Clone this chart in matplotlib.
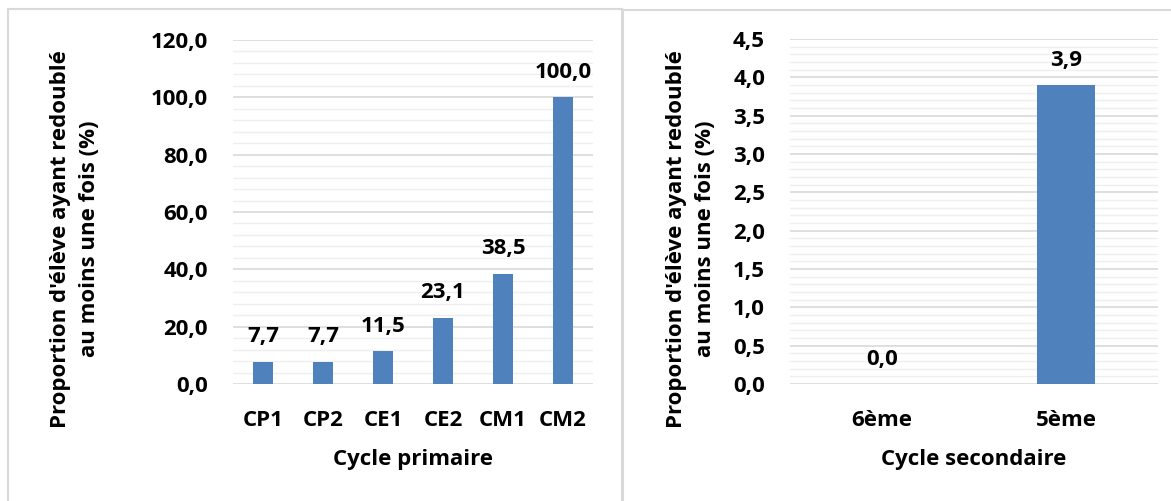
import matplotlib
matplotlib.use("Agg")
import matplotlib.pyplot as plt
from matplotlib.patches import Rectangle
from matplotlib.ticker import MultipleLocator, FuncFormatter

# Données : proportion d'élèves ayant redoublé au moins une fois
primaire_classes = ["CP1", "CP2", "CE1", "CE2", "CM1", "CM2"]
primaire_valeurs = [7.7, 7.7, 11.5, 23.1, 38.5, 100.0]

secondaire_classes = ["6ème", "5ème"]
secondaire_valeurs = [0.0, 3.9]

BLEU = "#4F81BD"
GRIS_MAJ = "#d9d9d9"
GRIS_MIN = "#efefef"
W, H = 1171, 501
TAILLE = 16

plt.rcParams["font.family"] = ["Open Sans", "DejaVu Sans"]
plt.rcParams["font.weight"] = "bold"


def virgule(v, _pos=None):
    return f"{v:.1f}".replace(".", ",")


def px(x0, y0, x1, y1):
    # rectangle en pixels (origine en haut à gauche) -> coordonnées figure
    return [x0 / W, 1 - y1 / H, (x1 - x0) / W, (y1 - y0) / H]


def tracer(ax, classes, valeurs, ymax, pas, pas_min, largeur):
    pos = range(len(classes))
    ax.bar(pos, valeurs, width=largeur, color=BLEU, zorder=3)
    ax.set_xlim(-0.5, len(classes) - 0.5)
    ax.set_ylim(0, ymax)
    ax.yaxis.set_major_locator(MultipleLocator(pas))
    ax.yaxis.set_minor_locator(MultipleLocator(pas_min))
    ax.yaxis.set_major_formatter(FuncFormatter(virgule))
    ax.grid(True, axis="y", which="major", color=GRIS_MAJ, lw=1.2, zorder=1)
    ax.grid(True, axis="y", which="minor", color=GRIS_MIN, lw=1.0, zorder=0)
    ax.set_xticks(list(pos))
    ax.set_xticklabels(classes)
    ax.tick_params(which="both", length=0)
    ax.tick_params(axis="y", pad=18, labelsize=TAILLE)
    ax.tick_params(axis="x", pad=19, labelsize=TAILLE)
    for s in ax.spines.values():
        s.set_visible(False)
    for x, v in zip(pos, valeurs):
        ax.annotate(virgule(v), (x, v), xytext=(0, 14), textcoords="offset points",
                    ha="center", va="baseline", fontsize=TAILLE, fontweight="bold")


fig = plt.figure(figsize=(W / 100, H / 100), dpi=100)
fig.patch.set_facecolor("white")

# cadres des deux graphiques
fig.patches.append(Rectangle((8 / W, -0.05), 614 / W, 1.05 - 9 / H,
                             transform=fig.transFigure, fill=False,
                             ec=GRIS_MAJ, lw=1.5))
fig.patches.append(Rectangle((623 / W, -0.05), 0.6, 1.05 - 10 / H,
                             transform=fig.transFigure, fill=False,
                             ec=GRIS_MAJ, lw=1.5))

ax1 = fig.add_axes(px(233, 40, 593, 384))
tracer(ax1, primaire_classes, primaire_valeurs, 120, 20, 4, 0.32)

ax2 = fig.add_axes(px(790, 39, 1158, 384))
tracer(ax2, secondaire_classes, secondaire_valeurs, 4.5, 0.5, 0.1, 0.315)

titre_y = "Proportion d'élève ayant redoublé\nau moins une fois (%)"
fig.text(75 / W, 1 - 239 / H, titre_y, rotation=90, ha="center", va="center",
         multialignment="center", fontsize=TAILLE, fontweight="bold", linespacing=1.45)
fig.text(691 / W, 1 - 239 / H, titre_y, rotation=90, ha="center", va="center",
         multialignment="center", fontsize=TAILLE, fontweight="bold", linespacing=1.45)

fig.text(413 / W, 1 - 460 / H, "Cycle primaire", ha="center", va="center",
         fontsize=TAILLE, fontweight="bold")
fig.text(974 / W, 1 - 460 / H, "Cycle secondaire", ha="center", va="center",
         fontsize=TAILLE, fontweight="bold")

fig.savefig("out.png", dpi=100, facecolor="white")
plt.close(fig)
